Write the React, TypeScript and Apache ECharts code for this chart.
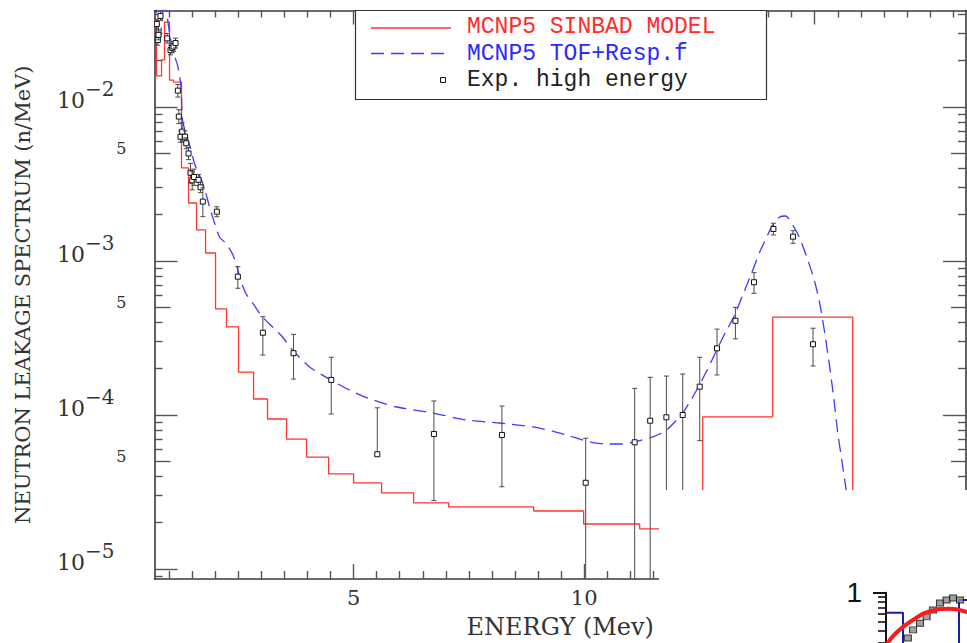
import React, { useEffect, useRef } from "react";
import * as echarts from "echarts";

// MCNP5 SINBAD model: histogram bin edges (MeV) and flux in each bin (n/MeV)
const redEdges = [
  0.683, 0.727, 0.836, 0.901, 1.009, 1.096, 1.269, 1.421, 1.595, 1.79, 2.007, 2.245, 2.505, 2.831,
  3.134, 3.547, 3.98, 4.458, 5.0, 5.607, 6.302, 7.061, 8.905, 9.989, 11.204, 12.571, 14.089, 15.824,
];
const redFlux = [
  0.0367, 0.0159, 0.0202, 0.0356, 0.01496, 0.01452, 0.00402, 0.00238, 0.00159, 0.001127, 0.000488,
  0.000373, 0.00019, 0.000127, 9.42e-5, 6.98e-5, 5.33e-5, 4.14e-5, 3.62e-5, 3.12e-5, 2.69e-5, 2.53e-5,
  2.38e-5, 1.96e-5, 1.82e-5, 9.71e-5, 4.32e-4,
];

// MCNP5 TOF + response function
const blueEnergy = [
  0.705, 0.759, 0.803, 0.846, 0.889, 0.944, 1.009, 1.074, 1.182, 1.247, 1.269, 1.291, 1.356, 1.443,
  1.529, 1.616, 1.703, 1.79, 1.876, 1.963, 2.093, 2.245, 2.375, 2.462, 2.549, 2.657, 2.809, 3.026,
  3.243, 3.46, 3.677, 4.046, 4.501, 4.913, 5.239, 5.564, 5.933, 6.714, 7.451, 8.167, 8.883, 9.317,
  9.685, 9.967, 10.228, 10.488, 10.77, 11.095, 11.421, 11.638, 11.811, 11.985, 12.137, 12.289, 12.44,
  12.679, 12.874, 13.069, 13.265, 13.438, 13.633, 13.807, 13.959, 14.089, 14.241, 14.371, 14.523,
  14.675, 14.826, 14.978, 15.108, 15.217, 15.325, 15.412, 15.499, 15.586, 15.672, 15.738,
];
const blueFlux = [
  0.0496, 0.034, 0.0272, 0.0367, 0.0496, 0.0414, 0.0303, 0.0234, 0.01874, 0.01452, 0.0111, 0.00824,
  0.00678, 0.00566, 0.00453, 0.00379, 0.00336, 0.00281, 0.00224, 0.00185, 0.001432, 0.001289,
  0.001109, 0.000941, 0.000753, 0.00062, 0.000534, 0.000432, 0.000373, 0.000321, 0.000264, 0.000205,
  0.000169, 0.000145, 0.000131, 0.0001214, 0.0001127, 0.000103, 9.28e-5, 8.87e-5, 8.36e-5, 7.87e-5,
  7.31e-5, 6.89e-5, 6.58e-5, 6.48e-5, 6.48e-5, 6.68e-5, 7.1e-5, 7.53e-5, 8.11e-5, 9.14e-5, 1.03e-4,
  1.214e-4, 1.452e-4, 1.99e-4, 2.64e-4, 3.46e-4, 4.46e-4, 6.01e-4, 8.35e-4, 1.143e-3, 1.432e-3,
  1.714e-3, 1.932e-3, 1.96e-3, 1.714e-3, 1.409e-3, 1.061e-3, 7.76e-4, 5.33e-4, 3.4e-4, 2.05e-4,
  1.288e-4, 7.64e-5, 5.1e-5, 3.4e-5, 2.42e-5,
];

// Measured high-energy spectrum; a lower bound of 0 runs the error bar off the axis
const expEnergy = [
  0.733, 0.755, 0.77, 0.813, 0.959, 1.03, 1.067, 1.095, 1.139, 1.189, 1.21, 1.247, 1.284, 1.345, 1.371,
  1.421, 1.464, 1.501, 1.54, 1.638, 1.681, 1.731, 2.035, 2.49, 3.033, 3.698, 4.516, 5.514, 6.742,
  8.217, 10.033, 11.095, 11.432, 11.783, 12.137, 12.506, 12.881, 13.28, 13.683, 14.104, 14.529, 14.963,
];
const expFlux = [
  0.0346, 0.0272, 0.0294, 0.039, 0.0279, 0.0234, 0.0242, 0.0247, 0.026, 0.01277, 0.00867, 0.00641,
  0.00692, 0.00641, 0.00581, 0.00499, 0.00374, 0.00334, 0.00351, 0.00336, 0.00301, 0.00243, 0.00209,
  7.91e-4, 3.42e-4, 2.52e-4, 1.69e-4, 5.56e-5, 7.53e-5, 7.42e-5, 3.63e-5, 6.65e-5, 9.18e-5, 9.66e-5,
  1.0e-4, 1.527e-4, 2.71e-4, 4.09e-4, 7.28e-4, 1.614e-3, 1.439e-3, 2.88e-4,
];
const expLow = [
  0.0322, 0.0252, 0.0273, 0.0364, 0.026, 0.0218, 0.0225, 0.023, 0.0242, 0.0116, 0.0078, 0.0059, 0.006,
  0.0059, 0.00535, 0.00455, 0.0032, 0.0029, 0.0031, 0.0031, 0.00278, 0.00194, 0.00194, 6.65e-4,
  2.45e-4, 1.71e-4, 1.014e-4, 5.56e-5, 2.78e-5, 3.42e-5, 0, 0, 0, 0, 0, 6.81e-5, 1.82e-4, 3.12e-4,
  6.17e-4, 1.476e-3, 1.303e-3, 2.08e-4,
];
const expHigh = [
  0.0372, 0.0292, 0.0316, 0.0418, 0.03, 0.0252, 0.026, 0.0266, 0.028, 0.014, 0.0096, 0.007, 0.0079,
  0.007, 0.0063, 0.00545, 0.0043, 0.0038, 0.00395, 0.00365, 0.00325, 0.00298, 0.00225, 9.18e-4,
  4.35e-4, 3.34e-4, 2.37e-4, 1.114e-4, 1.233e-4, 1.143e-4, 7.06e-5, 1.489e-4, 1.757e-4, 1.79e-4,
  1.845e-4, 2.37e-4, 3.61e-4, 5.0e-4, 8.4e-4, 1.758e-3, 1.574e-3, 3.66e-4,
];

// Tick positions
const xMajorTicks = [5, 10, 15];
const xMinorTicks = [
  1, 1.5, 2, 2.5, 3, 3.5, 4, 4.5, 5.5, 6, 6.5, 7, 7.5, 8, 8.5, 9, 9.5, 10.5, 11, 11.5, 12, 12.5, 13,
  13.5, 14, 14.5, 15.5, 16, 16.5, 17, 17.5, 18,
];
const yMajorTicks = [1e-5, 1e-4, 1e-3, 1e-2];
const yFiveTicks = [5e-5, 5e-4, 5e-3];
const yMinorTicks = [
  9e-6, 2e-5, 3e-5, 4e-5, 6e-5, 7e-5, 8e-5, 9e-5, 2e-4, 3e-4, 4e-4, 6e-4, 7e-4, 8e-4, 9e-4, 2e-3,
  3e-3, 4e-3, 6e-3, 7e-3, 8e-3, 9e-3, 2e-2, 3e-2, 4e-2,
];

// Corner inset (neighbouring panel)
const insetBlueX = [0, 0.85, 0.85, 3.65, 3.65, 6];
const insetBlueY = [0.62, 0.62, 0.2, 0.2, 0.84, 0.84];
const insetRedX = [0, 0.5, 1.35, 2.2, 3.2, 4.05, 5];
const insetRedY = [0.28, 0.38, 0.52, 0.64, 0.68, 0.63, 0.55];
const insetExpX = [1.09, 1.35, 1.7, 2.03, 2.35, 2.7, 3.03, 3.35, 3.7];
const insetExpY = [0.337, 0.41, 0.48, 0.56, 0.66, 0.78, 0.84, 0.88, 0.84];
const insetMajorTicks = [1];
const insetMinorTicks = [0.9, 0.8, 0.7, 0.6, 0.5, 0.4, 0.3, 0.2];

const X_MIN = 0.683;
const X_MAX = 18.28;
const Y_MIN = Math.log10(8.61e-6);
const Y_MAX = Math.log10(0.04232);

const RED = "#ff3535";
const BLUE = "#3a3cff";
const AXIS = "#3a3a3a";
const SERIF = "'DejaVu Serif', serif";
const MONO = "'Liberation Mono', monospace";

const lg = (v: number) => Math.log10(v);

const axisLineStyle = { color: AXIS, width: 1.6 };
const tickLineStyle = { color: "#555", width: 1.4 };

function xTicks(position: string, ticks: number[], len: number, line: boolean, extra: any = {}) {
  return {
    gridIndex: 0,
    type: "value",
    min: X_MIN,
    max: X_MAX,
    position,
    axisLine: { show: line, onZero: false, lineStyle: axisLineStyle },
    axisTick: { show: true, inside: true, length: len, customValues: ticks, lineStyle: tickLineStyle },
    axisLabel: { show: false },
    splitLine: { show: false },
    ...extra,
  };
}

function yTicks(position: string, ticks: number[], len: number, line: boolean, extra: any = {}) {
  return {
    gridIndex: 0,
    type: "value",
    min: Y_MIN,
    max: Y_MAX,
    position,
    axisLine: { show: line, onZero: false, lineStyle: axisLineStyle },
    axisTick: {
      show: true,
      inside: true,
      length: len,
      customValues: ticks.map(lg),
      lineStyle: tickLineStyle,
    },
    axisLabel: { show: false },
    splitLine: { show: false },
    ...extra,
  };
}

function buildOption() {
  const redPoints: number[][] = [];
  redFlux.forEach((f, i) => {
    redPoints.push([redEdges[i], lg(f)], [redEdges[i + 1], lg(f)]);
  });
  redPoints.push([redEdges[redEdges.length - 1], Y_MIN - 2]);

  const bluePoints = blueEnergy.map((e, i) => [e, lg(blueFlux[i])]);

  const expPoints = expEnergy.map((e, i) => [
    e,
    lg(expFlux[i]),
    expLow[i] > 0 ? lg(expLow[i]) : -99,
    lg(expHigh[i]),
  ]);

  const renderExp = (params: any, api: any) => {
    const e = api.value(0);
    const c = api.coord([e, api.value(1)]);
    const lo = api.value(2);
    const top = api.coord([e, api.value(3)])[1];
    const cs = params.coordSys;
    const bottom = lo > -50 ? api.coord([e, lo])[1] : cs.y + cs.height + 10;
    const half = 2.5;
    const cap = 2.5;
    const bar = { stroke: "#4a4a4a", lineWidth: 1 };
    const children: any[] = [];
    if (top < c[1] - half) {
      children.push({ type: "line", shape: { x1: c[0], y1: top, x2: c[0], y2: c[1] - half }, style: bar });
      children.push({ type: "line", shape: { x1: c[0] - cap, y1: top, x2: c[0] + cap, y2: top }, style: bar });
    }
    if (bottom > c[1] + half) {
      children.push({ type: "line", shape: { x1: c[0], y1: c[1] + half, x2: c[0], y2: bottom }, style: bar });
      if (lo > -50) {
        children.push({
          type: "line",
          shape: { x1: c[0] - cap, y1: bottom, x2: c[0] + cap, y2: bottom },
          style: bar,
        });
      }
    }
    children.push({
      type: "rect",
      shape: { x: c[0] - half, y: c[1] - half, width: half * 2, height: half * 2 },
      style: { fill: "#fff", stroke: "#111", lineWidth: 1 },
    });
    return { type: "group", children };
  };

  const labelColor = "#333";

  return {
    animation: false,
    backgroundColor: "#fff",
    grid: [
      { left: 154.5, top: 10.5, right: 1, bottom: 64, outerBoundsMode: "none", containLabel: false },
      { left: 886, top: 592.7, width: 200, height: 96, outerBoundsMode: "none", containLabel: false },
    ],
    xAxis: [
      xTicks("bottom", xMajorTicks, 15, true, {
        axisLabel: {
          show: true,
          customValues: xMajorTicks,
          formatter: (v: number) => String(v),
          margin: 8,
          fontFamily: SERIF,
          fontSize: 21,
          color: labelColor,
        },
        name: "ENERGY (Mev)",
        nameLocation: "middle",
        nameGap: 36,
        nameTextStyle: { fontFamily: SERIF, fontSize: 24, color: labelColor },
      }),
      xTicks("bottom", xMinorTicks, 8, false),
      xTicks("top", xMajorTicks, 14, true),
      xTicks("top", xMinorTicks, 7, false),
      { gridIndex: 1, type: "value", min: 0, max: 10, show: false },
    ],
    yAxis: [
      yTicks("left", yMajorTicks, 23, true, {
        axisLabel: {
          show: true,
          customValues: yMajorTicks.map(lg),
          margin: 40,
          padding: [0, 0, 23, 0],
          formatter: (v: number) => `{a|10}{b|\u2212${Math.round(-v)}}`,
          rich: {
            a: { fontFamily: SERIF, fontSize: 22, lineHeight: 24, verticalAlign: "bottom", color: labelColor },
            b: { fontFamily: SERIF, fontSize: 20, padding: [0, 0, 13, 0], verticalAlign: "top", color: labelColor },
          },
        },
        name: "NEUTRON LEAKAGE SPECTRUM (n/MeV)",
        nameLocation: "middle",
        nameRotate: 90,
        nameGap: 121,
        nameTextStyle: { fontFamily: SERIF, fontSize: 21, color: labelColor },
      }),
      yTicks("left", yFiveTicks, 16, false, {
        axisLabel: {
          show: true,
          customValues: yFiveTicks.map(lg),
          margin: 28,
          verticalAlign: "bottom",
          lineHeight: 9,
          formatter: () => "5",
          fontFamily: SERIF,
          fontSize: 16,
          color: labelColor,
        },
      }),
      yTicks("left", yMinorTicks, 8, false),
      yTicks("right", yMajorTicks, 23, true),
      yTicks("right", yFiveTicks, 15, false),
      yTicks("right", yMinorTicks, 8, false),
      {
        gridIndex: 1,
        type: "value",
        min: -1,
        max: 0,
        position: "left",
        z: 20,
        axisLine: { show: true, onZero: false, lineStyle: { color: "#111", width: 2 } },
        axisTick: {
          show: true,
          inside: false,
          length: 13,
          customValues: insetMajorTicks.map(lg),
          lineStyle: { color: "#111", width: 2 },
        },
        axisLabel: {
          show: true,
          customValues: insetMajorTicks.map(lg),
          formatter: () => "1",
          margin: 24,
          fontFamily: "'Liberation Sans', sans-serif",
          fontSize: 28,
          color: "#111",
        },
        splitLine: { show: false },
      },
      {
        gridIndex: 1,
        type: "value",
        min: -1,
        max: 0,
        position: "left",
        z: 20,
        axisLine: { show: false, onZero: false },
        axisTick: {
          show: true,
          inside: false,
          length: 8,
          customValues: insetMinorTicks.map(lg),
          lineStyle: { color: "#111", width: 1.6 },
        },
        axisLabel: { show: false },
        splitLine: { show: false },
      },
    ],
    graphic: {
      elements: [
        {
          type: "rect",
          shape: { x: 659, y: 490, width: 320, height: 160 },
          style: { fill: "#fff" },
          z: 10,
          silent: true,
        },
        {
          type: "rect",
          shape: { x: 355.5, y: 10.5, width: 411, height: 89 },
          style: { fill: "#fff", stroke: "#333", lineWidth: 1.2 },
          z: 10,
        },
        {
          type: "line",
          shape: { x1: 371, y1: 28, x2: 451, y2: 28 },
          style: { stroke: RED, lineWidth: 1.3 },
          z: 11,
        },
        {
          type: "line",
          shape: { x1: 371, y1: 53.5, x2: 451, y2: 53.5 },
          style: { stroke: BLUE, lineWidth: 1.3, lineDash: [13, 7] },
          z: 11,
        },
        {
          type: "rect",
          shape: { x: 440.5, y: 77.5, width: 5, height: 5 },
          style: { fill: "#fff", stroke: "#111", lineWidth: 1 },
          z: 11,
        },
        ...[
          { text: "MCNP5 SINBAD MODEL", color: "#ff2a2a", y: 27 },
          { text: "MCNP5 TOF+Resp.f", color: "#2a2aff", y: 53.5 },
          { text: "Exp. high energy", color: "#222", y: 80 },
        ].map((t) => ({
          type: "text",
          x: 467,
          y: t.y,
          z: 11,
          style: {
            text: t.text,
            fill: t.color,
            font: `23px ${MONO}`,
            lineHeight: 24,
            align: "left",
            verticalAlign: "middle",
            textAlign: "left",
            textVerticalAlign: "middle",
          },
        })),
      ],
    },
    series: [
      {
        name: "MCNP5 SINBAD MODEL",
        type: "line",
        xAxisIndex: 0,
        yAxisIndex: 0,
        data: redPoints,
        symbol: "none",
        lineStyle: { color: RED, width: 1.3 },
        clip: true,
        z: 3,
      },
      {
        name: "MCNP5 TOF+Resp.f",
        type: "line",
        xAxisIndex: 0,
        yAxisIndex: 0,
        data: bluePoints,
        symbol: "none",
        smooth: 0.2,
        lineStyle: { color: BLUE, width: 1.3, type: [13, 7] },
        clip: true,
        z: 4,
      },
      {
        name: "Exp. high energy",
        type: "custom",
        xAxisIndex: 0,
        yAxisIndex: 0,
        data: expPoints,
        encode: { x: 0, y: 1 },
        renderItem: renderExp,
        clip: true,
        z: 5,
      },
      {
        type: "line",
        xAxisIndex: 4,
        yAxisIndex: 6,
        data: insetBlueX.map((x, i) => [x, lg(insetBlueY[i])]),
        symbol: "none",
        lineStyle: { color: "#1c1ca8", width: 2 },
        z: 20,
      },
      {
        type: "scatter",
        xAxisIndex: 4,
        yAxisIndex: 6,
        data: insetExpX.map((x, i) => [x, lg(insetExpY[i])]),
        symbol: "rect",
        symbolSize: [7, 6],
        itemStyle: { color: "#8a8a8a", borderColor: "#111", borderWidth: 1 },
        z: 20,
      },
      {
        type: "line",
        xAxisIndex: 4,
        yAxisIndex: 6,
        data: insetRedX.map((x, i) => [x, lg(insetRedY[i])]),
        symbol: "none",
        smooth: 0.5,
        lineStyle: { color: "#ff1a1a", width: 4 },
        z: 21,
      },
    ],
  };
}

export default function App() {
  const ref = useRef<HTMLDivElement>(null);
  useEffect(() => {
    document.body.style.margin = "0";
    const chart = echarts.init(ref.current as HTMLDivElement, null, { renderer: "svg" });
    chart.setOption(buildOption() as any);
    return () => chart.dispose();
  }, []);
  return (
    <div
      ref={ref}
      style={{ position: "fixed", left: 0, top: 0, width: 967, height: 643, background: "#fff" }}
    />
  );
}
